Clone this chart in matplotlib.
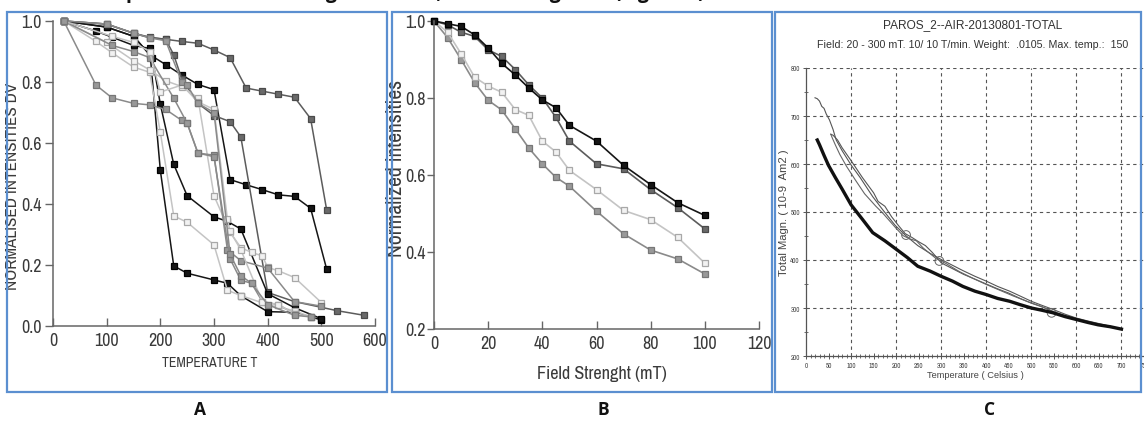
import matplotlib
matplotlib.use("Agg")
import matplotlib.pyplot as plt
from matplotlib import font_manager as fm
from matplotlib.patches import Rectangle
from matplotlib.textpath import TextPath
from matplotlib.ticker import MultipleLocator

W, H = 1144, 427

# ---- panel A: thermal demagnetisation (temperature, normalised intensity) ----
A_SERIES = [
    # (style, temperatures, values)
    ("dark", [20, 100, 150, 180, 210, 240, 270, 300, 330, 360, 390, 420, 450, 480, 510],
     [1.0, 0.99, 0.96, 0.947, 0.94, 0.933, 0.927, 0.905, 0.88, 0.78, 0.77, 0.76, 0.75, 0.68, 0.38]),
    ("black", [20, 100, 150, 180, 210, 240, 270, 300, 330, 360, 390, 420, 450, 480, 510],
     [1.0, 0.98, 0.95, 0.89, 0.857, 0.823, 0.792, 0.775, 0.48, 0.463, 0.447, 0.43, 0.425, 0.386, 0.186]),
    ("dark", [20, 100, 150, 180, 210, 225, 240, 270, 300, 330, 350, 400, 450, 530, 580],
     [1.0, 0.99, 0.96, 0.945, 0.94, 0.889, 0.81, 0.73, 0.69, 0.67, 0.62, 0.11, 0.08, 0.05, 0.035]),
    ("black", [20, 80, 110, 150, 180, 200, 225, 250, 300, 325, 350, 400, 450, 500],
     [1.0, 0.967, 0.947, 0.92, 0.91, 0.51, 0.197, 0.173, 0.151, 0.14, 0.099, 0.047, 0.045, 0.02]),
    ("black", [20, 100, 150, 185, 200, 225, 250, 300, 325, 350, 400, 450, 500],
     [1.0, 0.98, 0.95, 0.88, 0.727, 0.53, 0.427, 0.358, 0.343, 0.318, 0.106, 0.06, 0.024]),
    ("light", [20, 80, 110, 150, 180, 200, 225, 250, 300, 325, 350, 400, 450, 480],
     [1.0, 0.933, 0.896, 0.849, 0.832, 0.635, 0.361, 0.34, 0.266, 0.117, 0.10, 0.07, 0.05, 0.03]),
    ("light", [20, 100, 150, 180, 210, 240, 270, 300, 330, 350, 370, 390, 400, 420, 450, 500],
     [1.0, 0.93, 0.87, 0.84, 0.804, 0.785, 0.748, 0.427, 0.307, 0.257, 0.241, 0.23, 0.192, 0.181, 0.159, 0.077]),
    ("mid", [20, 80, 110, 150, 180, 210, 240, 250, 270, 300, 325, 350, 400, 450, 500],
     [1.0, 0.79, 0.748, 0.73, 0.725, 0.71, 0.674, 0.665, 0.567, 0.56, 0.25, 0.214, 0.19, 0.08, 0.065]),
    ("mid", [20, 110, 150, 180, 225, 250, 270, 300, 330, 350, 370, 390, 420, 450, 480],
     [1.0, 0.92, 0.90, 0.88, 0.747, 0.665, 0.567, 0.555, 0.22, 0.15, 0.14, 0.08, 0.07, 0.04, 0.03]),
    ("light", [20, 110, 150, 180, 200, 240, 270, 300, 325, 330, 350, 390, 420, 450, 480],
     [1.0, 0.95, 0.93, 0.90, 0.767, 0.79, 0.735, 0.71, 0.35, 0.31, 0.25, 0.08, 0.07, 0.04, 0.03]),
    ("mid", [20, 100, 150, 180, 210, 240, 250, 270, 300, 330, 350, 370, 400, 450, 480],
     [1.0, 0.99, 0.96, 0.945, 0.935, 0.80, 0.79, 0.73, 0.70, 0.235, 0.165, 0.14, 0.07, 0.035, 0.03]),
]
A_XTICKS = [0, 100, 200, 300, 400, 500, 600]
A_YTICKS = [0.0, 0.2, 0.4, 0.6, 0.8, 1.0]

# ---- panel B: AF demagnetisation ----
B_FIELD = [0, 5, 10, 15, 20, 25, 30, 35, 40, 45, 50, 60, 70, 80, 90, 100]
B_SERIES = [
    ("mid", [1.0, 0.957, 0.90, 0.84, 0.794, 0.769, 0.72, 0.67, 0.629, 0.594, 0.571, 0.506, 0.447, 0.405, 0.382, 0.343]),
    ("light", [1.0, 0.971, 0.915, 0.854, 0.831, 0.815, 0.77, 0.755, 0.688, 0.66, 0.612, 0.562, 0.508, 0.484, 0.438, 0.371]),
    ("dark", [1.0, 0.99, 0.971, 0.96, 0.925, 0.908, 0.874, 0.834, 0.80, 0.75, 0.688, 0.629, 0.616, 0.562, 0.515, 0.46]),
    ("black", [1.0, 0.993, 0.986, 0.964, 0.93, 0.89, 0.86, 0.826, 0.795, 0.775, 0.729, 0.688, 0.625, 0.575, 0.528, 0.495]),
]
B_XTICKS = [0, 20, 40, 60, 80, 100, 120]
B_YTICKS = [0.2, 0.4, 0.6, 0.8, 1.0]

# ---- panel C: thermomagnetic curve ----
C_HEAT1_T = [20, 25, 30, 35, 40, 45, 52, 60, 67, 80, 100, 120, 148, 170, 198, 220, 248, 275, 300, 325,
             348, 375, 400, 425, 452, 475, 500, 525, 548, 575, 600, 625, 648, 675, 700]
C_HEAT1_M = [738, 736, 731, 720, 716, 704, 692, 672, 650, 628, 598, 572, 532, 505, 472, 452, 430, 414, 401, 389,
             378, 366, 356, 345, 335, 325, 314, 305, 297, 287, 279, 273, 268, 262, 256]
C_HEAT2_T = [55, 60, 70, 80, 100, 125, 150, 160, 175, 190, 205, 220, 235, 250, 265, 280, 295, 300, 325,
             350, 375, 400, 425, 450, 475, 500, 525, 550, 575, 600]
C_HEAT2_M = [662, 660, 650, 634, 607, 572, 540, 522, 512, 490, 472, 455, 447, 438, 430, 416, 400, 394, 382,
             370, 360, 350, 340, 331, 320, 310, 302, 292, 284, 278]
C_HEAT3_T = [55, 58, 65, 75, 90, 110, 130, 155, 170, 185, 200, 215, 230, 245, 260, 290, 310, 340, 370, 400,
             430, 460, 490, 520, 550]
C_HEAT3_M = [662, 655, 640, 620, 595, 566, 538, 512, 498, 482, 466, 451, 444, 440, 425, 402, 393, 376, 362, 349,
             337, 325, 314, 304, 292]
C_COOL_T = [25, 30, 40, 50, 65, 80, 100, 125, 148, 175, 198, 225, 248, 275, 300, 325, 348, 375, 400,
            425, 452, 475, 500, 525, 548, 575, 600, 625, 648, 675, 700]
C_COOL_M = [650, 640, 618, 597, 572, 548, 515, 485, 457, 440, 424, 405, 387, 377, 366, 356, 345, 335, 328,
            320, 314, 307, 300, 295, 290, 282, 276, 270, 265, 261, 256]
C_LOOPS_T = [222, 296, 545]
C_LOOPS_M = [452, 398, 290]
C_XTICKS = list(range(0, 751, 50))
C_YTICKS = [200, 300, 400, 500, 600, 700, 800]

STYLE = {
    "black": dict(color="#161616", mfc="#161616", mec="#000000"),
    "dark": dict(color="#5c5c5c", mfc="#6a6a6a", mec="#4a4a4a"),
    "mid": dict(color="#8a8a8a", mfc="#999999", mec="#777777"),
    "light": dict(color="#c4c4c4", mfc="#f2f2f2", mec="#a8a8a8"),
}


def find_narrow():
    # look for any installed condensed / narrow sans face
    best = None
    for f in fm.fontManager.ttflist:
        low = (f.name + " " + f.fname).lower()
        if not ("narrow" in low or "condensed" in low):
            continue
        if any(k in low for k in ("bold", "italic", "oblique", "mono", "serif", "light", "thin",
                                  "black", "medium", "semi", "extra", "cjk")):
            continue
        score = 0 if "narrow" in low else (1 if "sans" in low else 2)
        if best is None or score < best[0]:
            best = (score, f.fname)
    return best[1] if best else None


NARROW_FILE = find_narrow()


def base_font(kind):
    if kind == "narrow" and NARROW_FILE:
        return fm.FontProperties(fname=NARROW_FILE)
    if kind == "bold":
        return fm.FontProperties(family="Open Sans", weight="bold")
    if kind == "arial":
        return fm.FontProperties(family="Liberation Sans")
    return fm.FontProperties(family="DejaVu Sans")


def fitted(kind, text, width_px, max_size=30):
    # pick a size so that the text comes out about width_px wide
    fp = base_font(kind)
    fp.set_size(10)
    w = TextPath((0, 0), text, prop=fp).get_extents().width * 100 / 72
    fp.set_size(min(max_size, 10 * width_px / w))
    return fp


fig = plt.figure(figsize=(W / 100, H / 100), dpi=100)


def box(x0, y0, x1, y1):
    fig.patches.append(Rectangle((x0 / W, 1 - y1 / H), (x1 - x0) / W, (y1 - y0) / H,
                                 transform=fig.transFigure, fill=False,
                                 edgecolor="#5b8fd0", linewidth=1.6))


def add_axes(left, right, top, bottom):
    return fig.add_axes([left / W, 1 - bottom / H, (right - left) / W, (bottom - top) / H])


def style_ab(ax, xt, yt, xfmt, yfmt, tick_fp, ytick_len=6, ypad=2):
    for s in ("top", "right"):
        ax.spines[s].set_visible(False)
    for s in ("left", "bottom"):
        ax.spines[s].set_color("#666666")
        ax.spines[s].set_linewidth(1.1)
    ax.set_xticks(xt, [xfmt.format(v) for v in xt], fontproperties=tick_fp)
    ax.set_yticks(yt, [yfmt.format(v) for v in yt], fontproperties=tick_fp)
    ax.tick_params(axis="y", direction="out", length=ytick_len, width=1, color="#666666",
                   labelcolor="#3a3a3a", pad=ypad)
    ax.tick_params(axis="x", direction="in", length=6, width=1, color="#666666",
                   labelcolor="#3a3a3a", pad=4)


def place_labels(ax, ax_box, xlab_top, ylab_right):
    # label anchors given in figure pixels: top edge of x label, right edge of y label
    left, right, top, bottom = ax_box
    ax.xaxis.set_label_coords(0.5, (bottom - xlab_top) / (bottom - top))
    ax.yaxis.set_label_coords((ylab_right - left) / (right - left), 0.5)


box(7, 13, 387, 393)
box(392, 13, 772, 393)
box(775, 13, 1141, 393)

tick_fp = fitted("narrow", "500", 23, max_size=13)

# ---- A ----
A_BOX = (53, 375, 22, 327)
axA = add_axes(*A_BOX)
for kind, t, v in A_SERIES:
    st = STYLE[kind]
    axA.plot(t, v, "-s", color=st["color"], mfc=st["mfc"], mec=st["mec"],
             lw=1.1, ms=4.2, mew=0.9, clip_on=False)
axA.set_xlim(0, 600)
axA.set_ylim(0, 1.0)
style_ab(axA, A_XTICKS, A_YTICKS, "{:d}", "{:.1f}", tick_fp)
axA.set_xlabel("TEMPERATURE T", fontproperties=fitted("narrow", "TEMPERATURE T", 95), color="#3a3a3a")
axA.set_ylabel("NORMALISED INTENSITIES DV",
               fontproperties=fitted("narrow", "NORMALISED INTENSITIES DV", 205), color="#3a3a3a")
place_labels(axA, A_BOX, 356, 20)
axA.xaxis.label.set_x((210 - 53) / 322)
axA.yaxis.label.set_y((327 - 186) / 305)

# ---- B ----
B_BOX = (434, 759, 22, 330)
axB = add_axes(*B_BOX)
for kind, v in B_SERIES:
    st = STYLE[kind]
    axB.plot(B_FIELD, v, "-s", color=st["color"], mfc=st["mfc"], mec=st["mec"],
             lw=1.2, ms=4.2, mew=0.9, clip_on=False)
axB.set_xlim(0, 120)
axB.set_ylim(0.2, 1.0)
style_ab(axB, B_XTICKS, B_YTICKS, "{:d}", "{:.1f}", tick_fp, ytick_len=5, ypad=1)
axB.set_xlabel("Field Strenght (mT)",
               fontproperties=fitted("narrow", "Field Strenght (mT)", 128), color="#3a3a3a")
axB.set_ylabel("Normalized intensities",
               fontproperties=fitted("narrow", "Normalized intensities", 176), color="#3a3a3a")
place_labels(axB, B_BOX, 366, 406)
axB.xaxis.label.set_x((602 - 434) / 325)
axB.yaxis.label.set_y((330 - 168) / 308)

# ---- C ----
C_BOX = (806, 1144, 69, 357)
axC = add_axes(*C_BOX)
axC.set_xlim(0, 750)
axC.set_ylim(200, 800)
for v in C_YTICKS[1:]:
    axC.axhline(v, color="#555555", lw=0.8, ls=(0, (3, 3)), zorder=1)
for v in C_XTICKS[2:-1:2]:
    axC.axvline(v, color="#555555", lw=0.8, ls=(0, (3, 3)), zorder=1)
axC.plot(C_HEAT1_T, C_HEAT1_M, color="#555555", lw=0.8, zorder=3)
axC.plot(C_HEAT2_T, C_HEAT2_M, color="#555555", lw=0.8, zorder=3)
axC.plot(C_HEAT3_T, C_HEAT3_M, color="#666666", lw=0.8, zorder=3)
axC.scatter(C_LOOPS_T, C_LOOPS_M, s=40, facecolors="none", edgecolors="#666666", lw=0.7, zorder=3)
axC.plot(C_COOL_T, C_COOL_M, color="#111111", lw=2.4, zorder=4)
for s in ("top", "right"):
    axC.spines[s].set_visible(False)
for s in ("left", "bottom"):
    axC.spines[s].set_color("#555555")
    axC.spines[s].set_linewidth(0.9)
c_tick_fp = fitted("narrow", "700", 9, max_size=6)
axC.set_xticks(C_XTICKS, [str(v) for v in C_XTICKS], fontproperties=c_tick_fp)
axC.set_yticks(C_YTICKS, [str(v) for v in C_YTICKS], fontproperties=c_tick_fp)
axC.xaxis.set_minor_locator(MultipleLocator(10))
axC.yaxis.set_minor_locator(MultipleLocator(50))
axC.tick_params(which="major", direction="inout", length=5, width=0.7, color="#555555",
                labelcolor="#444444", pad=2)
axC.tick_params(which="minor", direction="inout", length=3, width=0.6, color="#555555")
axC.set_xlabel("Temperature ( Celsius )",
               fontproperties=fitted("arial", "Temperature ( Celsius )", 96), color="#444444")
axC.set_ylabel("Total Magn. ( 10-9  Am2 )",
               fontproperties=fitted("arial", "Total Magn. ( 10-9  Am2 )", 125), color="#444444")
place_labels(axC, C_BOX, 371, 789)
axC.xaxis.label.set_x((975 - 806) / 338)
title_c = "PAROS_2--AIR-20130801-TOTAL"
sub_c = "Field: 20 - 300 mT. 10/ 10 T/min. Weight:  .0105. Max. temp.:  150"
fig.text(973 / W, 1 - 25 / H, title_c, ha="center", va="center",
         fontproperties=fitted("arial", title_c, 178), color="#333333")
fig.text(973 / W, 1 - 45 / H, sub_c, ha="center", va="center",
         fontproperties=fitted("arial", sub_c, 309), color="#333333")

# panel letters and the caption line cut off by the top edge
letter_fp = base_font("bold")
letter_fp.set_size(12.5)
for x, letter in ((200, "A"), (603, "B"), (990, "C")):
    fig.text(x / W, 1 - 410 / H, letter, ha="center", va="center",
             fontproperties=letter_fp, color="#111111")
cap_fp = base_font("bold")
cap_fp.set_size(14)
fig.text(95 / W, 1 + 2 / H, "Stepwise thermal demagnetisation, AF and magnetic (Figure 6)",
         ha="left", va="baseline", fontproperties=cap_fp, color="#111111")

fig.savefig("out.png", dpi=100)
